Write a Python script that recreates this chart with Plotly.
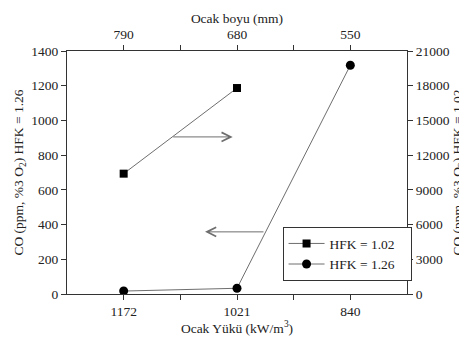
import plotly.graph_objects as go

# Data
load_labels = ["1172", "1021", "840"]          # bottom axis: Ocak Yükü (kW/m3)
length_labels = ["790", "680", "550"]          # top axis: Ocak boyu (mm)
series_names = ["HFK = 1.02", "HFK = 1.26"]
co_hfk102 = [10400, 17800]                     # right axis, squares
co_hfk126 = [17, 33, 1318]                     # left axis, circles

pos = [i + 1 for i in range(len(load_labels))]

FONT = "Liberation Serif"
AX = "#333333"
LINE = "#6e6e6e"
PAD = "\u00a0\u00a0\u00a0"

fig = go.Figure()
fig.add_trace(go.Scatter(
    x=pos[:len(co_hfk102)], y=co_hfk102, name=series_names[0] + PAD, yaxis="y2",
    mode="lines+markers", line=dict(color=LINE, width=1),
    marker=dict(symbol="square", size=8, color="black")))
fig.add_trace(go.Scatter(
    x=pos, y=co_hfk126, name=series_names[1] + PAD,
    mode="lines+markers", line=dict(color=LINE, width=1),
    marker=dict(symbol="circle", size=9, color="black")))
# invisible trace to activate top axis
fig.add_trace(go.Scatter(x=pos, y=co_hfk126, xaxis="x2", mode="markers",
                         marker=dict(opacity=0), showlegend=False, hoverinfo="skip"))

common_x = dict(range=[0.5, 3.5], tickvals=pos, showline=True, linecolor=AX,
                linewidth=1.3, ticks="outside", ticklen=5, tickcolor=AX,
                minor=dict(tickvals=[1.5, 2.5], ticks="outside", ticklen=5, tickcolor=AX),
                showgrid=False, zeroline=False, automargin=False,
                tickfont=dict(family=FONT, size=13.5, color="#222"))

fig.update_layout(
    width=459, height=330,
    margin=dict(l=59, r=60, t=43, b=44),
    paper_bgcolor="white", plot_bgcolor="white",
    font=dict(family=FONT, size=13.5, color="#222"),
    xaxis=dict(**common_x, ticktext=load_labels,
               title=dict(text="Ocak Yükü (kW/m<sup>3</sup>)", standoff=0,
                          font=dict(family=FONT, size=13.5))),
    xaxis2=dict(**common_x, ticktext=length_labels, overlaying="x", side="top",
                title=dict(text="Ocak boyu (mm)", standoff=0,
                           font=dict(family=FONT, size=13.5))),
    yaxis=dict(range=[0, 1400], dtick=200, showline=True, linecolor=AX, linewidth=1.3,
               ticks="outside", ticklen=5, tickcolor=AX, showgrid=False, zeroline=False,
               automargin=False,
               title=dict(text="CO (ppm, %3 O<sub>2</sub>) HFK = 1.26", standoff=4,
                          font=dict(family=FONT, size=13.5))),
    yaxis2=dict(range=[0, 21000], dtick=3000, tickformat="d", overlaying="y", side="right",
                showline=True, linecolor=AX, linewidth=1.3, automargin=False,
                ticks="outside", ticklen=5, tickcolor=AX, showgrid=False, zeroline=False,
                title=dict(text="CO (ppm, %3 O<sub>2</sub>) HFK = 1.02", standoff=14,
                           font=dict(family=FONT, size=13.5))),
    legend=dict(x=0.634, y=0.275, xanchor="left", yanchor="top",
                bordercolor="#333", borderwidth=1, bgcolor="white",
                font=dict(family=FONT, size=13.5), tracegroupgap=0,
                itemwidth=36),
    showlegend=True,
)

# Arrows indicating which axis each series belongs to
fig.add_annotation(x=1.962, y=905, ax=1.424, ay=905, xref="x", yref="y",
                   axref="x", ayref="y", showarrow=True, arrowhead=5,
                   arrowsize=1.8, arrowwidth=1, arrowcolor=LINE, text="")
fig.add_annotation(x=1.718, y=358, ax=2.247, ay=358, xref="x", yref="y",
                   axref="x", ayref="y", showarrow=True, arrowhead=5,
                   arrowsize=1.8, arrowwidth=1, arrowcolor=LINE, text="")

fig.write_html("out.html")
